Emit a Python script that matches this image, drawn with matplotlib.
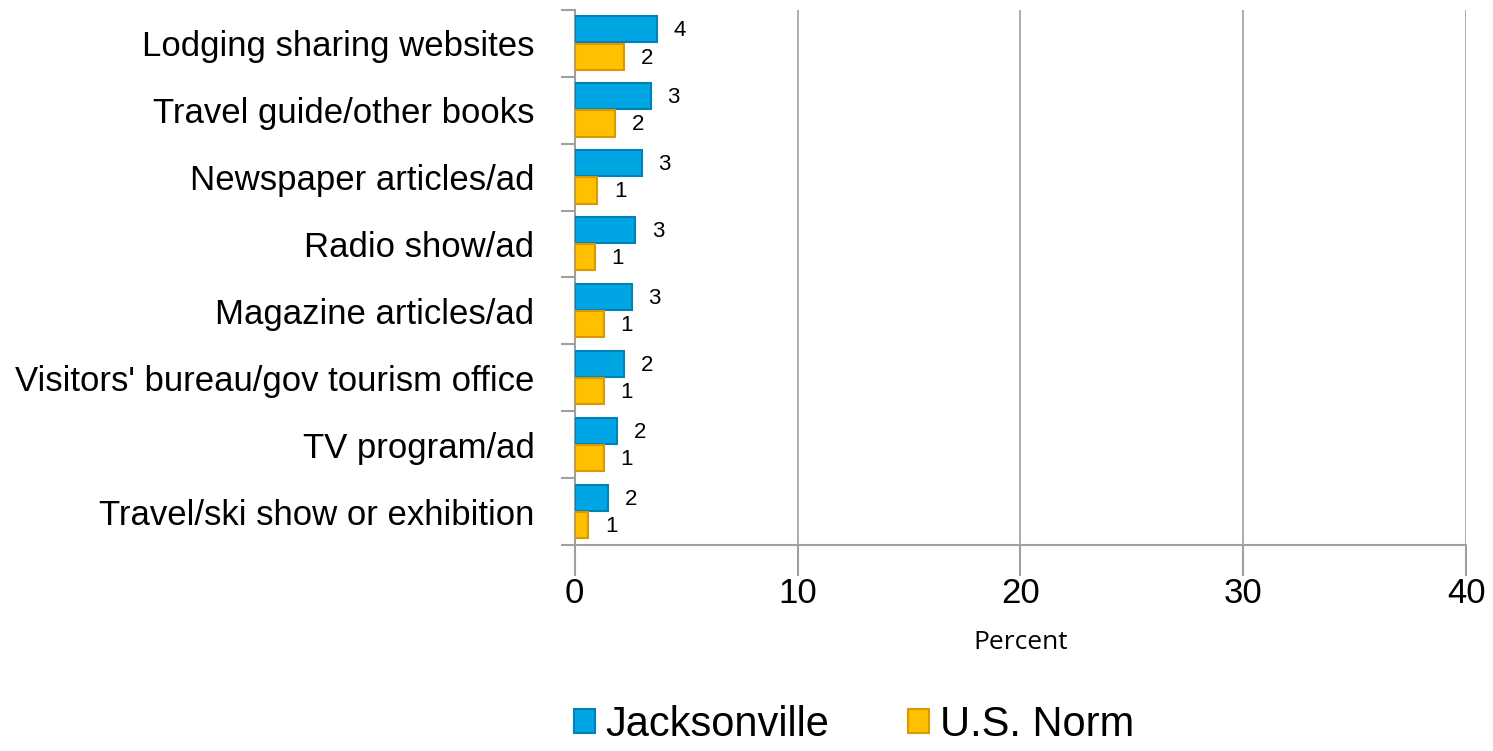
import matplotlib.pyplot as plt
import numpy as np

categories = ['Lodging sharing websites', 'Travel guide/other books', 'Newspaper articles/ad',
              'Radio show/ad', 'Magazine articles/ad', "Visitors' bureau/gov tourism office",
              'TV program/ad', 'Travel/ski show or exhibition']
jacksonville = [3.7, 3.4, 3.0, 2.7, 2.55, 2.2, 1.9, 1.5]
us_norm = [2.2, 1.8, 1.0, 0.9, 1.3, 1.3, 1.3, 0.6]
xticks = [0, 10, 20, 30, 40]

plt.rcParams['font.family'] = ['Liberation Sans', 'DejaVu Sans']

fig = plt.figure(figsize=(14.93, 7.51), dpi=100)
ax = fig.add_axes([0.385, 0.274, 0.597, 0.713])

y = np.arange(len(categories))
h = 0.39
b1 = ax.barh(y - 0.21, jacksonville, height=h, color='#00A6E4', edgecolor='#0082B8',
             linewidth=1.5, label='Jacksonville', zorder=3)
b2 = ax.barh(y + 0.2, us_norm, height=h, color='#FFC000', edgecolor='#D89A00',
             linewidth=1.5, label='U.S. Norm', zorder=3)

# value labels, rounded to whole percent
for bars, vals in ((b1, jacksonville), (b2, us_norm)):
    for bar, v in zip(bars, vals):
        ax.annotate('%.0f' % v, (v, bar.get_y() + bar.get_height() / 2),
                    xytext=(12, -1), textcoords='offset points',
                    ha='left', va='center', fontsize=16)

ax.set_xlim(0, 40)
ax.set_ylim(len(categories) - 0.5, -0.5)
ax.set_xticks(xticks)
ax.set_xticklabels([str(t) for t in xticks], fontsize=25)
ax.set_yticks(y)
ax.set_yticklabels(categories, fontsize=25)
ax.tick_params(axis='y', length=0, pad=29)
ax.set_yticks(np.arange(len(categories) + 1) - 0.5, minor=True)
ax.tick_params(axis='y', which='minor', length=10, color='#A0A0A0', width=1.5)
ax.tick_params(axis='x', length=22, color='#A0A0A0', width=1.5, pad=1)
ax.xaxis.grid(True, color='#A0A0A0', linewidth=1.2, zorder=0)
ax.set_xlabel('Percent', fontsize=19, family='Open Sans', labelpad=14)

for side in ('top', 'right'):
    ax.spines[side].set_visible(False)
for side in ('left', 'bottom'):
    ax.spines[side].set_color('#A0A0A0')
    ax.spines[side].set_linewidth(1.5)

fig.legend(loc='lower center', bbox_to_anchor=(0.572, -0.042), ncol=2, frameon=False,
           fontsize=30, handlelength=0.5, handleheight=0.5, handletextpad=0.25,
           columnspacing=1.9)

fig.savefig('out.png', dpi=100)
